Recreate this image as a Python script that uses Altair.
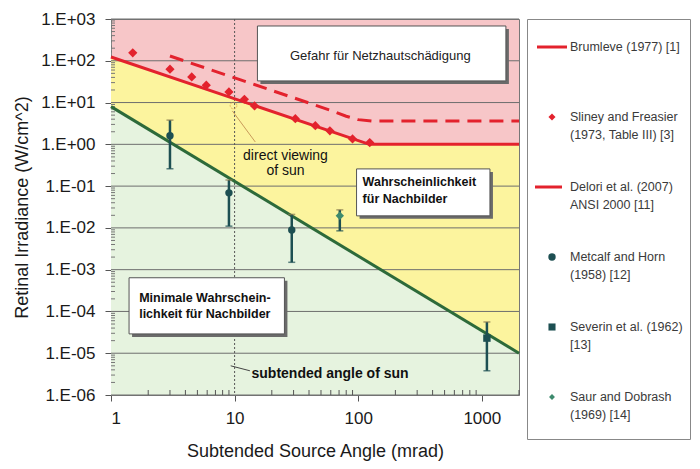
import altair as alt
import pandas as pd

FONT = "Liberation Sans"
RED = "#e3222d"
GREEN = "#2d6a3a"
TEAL = "#1d4f52"
TEAL2 = "#3d8a6d"
PINK = "#f7c6c8"
YELLOW = "#fcf49e"
LGREEN = "#e6f3df"

# ---- axis ticks ----
x_ticks = [1, 10, 100, 1000]
y_ticks = [1e3, 1e2, 1e1, 1e0, 1e-1, 1e-2, 1e-3, 1e-4, 1e-5, 1e-6]
x_minor = [2, 3, 4, 5, 6, 7, 8, 9, 20, 30, 40, 50, 60, 70, 80, 90,
           200, 300, 400, 500, 600, 700, 800, 900, 2000]
y_minor = [m * 10.0 ** e for e in range(-6, 3) for m in (2, 3, 4, 5, 6, 7, 8, 9)]

# ---- series ----
brum_x = [1, 123, 2000]
brum_y = [123, 1, 1]
delori_x = [3, 60, 80, 100, 130, 2000]
delori_y = [130, 6.5, 4.7, 3.9, 3.6, 3.6]
sun_x = [1, 2000]
sun_y = [8, 1e-5]
sliney_x = [1.5, 3, 4.5, 5.9, 9, 12, 14.5, 31, 45, 59, 90, 124]
sliney_y = [155, 63, 41, 26, 18, 12, 8.3, 4.1, 2.8, 2.1, 1.35, 1.1]
metcalf_x = [3, 9, 29]
metcalf_y = [1.6, 0.069, 0.0089]
metcalf_lo = [0.26, 0.011, 0.0015]
metcalf_hi = [3.8, 0.14, 0.021]
severin_x = [1100]
severin_y = [2.3e-5]
severin_lo = [3.8e-6]
severin_hi = [5.6e-5]
saur_x = [71]
saur_y = [0.0195]
saur_lo = [0.0085]
saur_hi = [0.027]

# ---- annotation boxes (data coords) ----
box_x1 = [15.3, 97, 1.4]
box_x2 = [1567, 1164, 25.3]
box_y1 = [680, 0.258, 6.4e-4]
box_y2 = [33, 0.0194, 2.9e-5]

# ---- legend ----
leg_line1 = ["Brumleve (1977) [1]", "Sliney and Freasier", "Delori et al. (2007)",
             "Metcalf and Horn", "Severin et al. (1962)", "Saur and Dobrash"]
leg_line2 = ["", "(1973, Table III) [3]", "ANSI 2000 [11]", "(1958) [12]", "[13]", "(1969) [14]"]

XT = "Subtended Source Angle (mrad)"
YT = "Retinal Irradiance (W/cm^2)"
xs = alt.Scale(type="log", domain=[1, 2000])
ys = alt.Scale(type="log", domain=[1e-6, 1e3])
xaxis = alt.Axis(values=x_ticks, format="d", grid=False, tickSize=6, tickColor="#555",
                 domainColor="#777", labelFontSize=17, labelPadding=9, labelColor="#1a1a1a",
                 titleFontSize=18, titlePadding=16, titleColor="#1a1a1a",
                 titleFontWeight="normal", labelFont=FONT, titleFont=FONT)
yaxis = alt.Axis(values=y_ticks, grid=False, tickSize=6, tickColor="#555", domainColor="#888",
                 domainDash=[3, 2],
                 labelExpr="'1.E' + (round(log(datum.value)/LN10) >= 0 ? '+0' : '-0') + abs(round(log(datum.value)/LN10))",
                 labelFontSize=17, labelPadding=10, labelColor="#1a1a1a",
                 titleFontSize=18, titlePadding=9, titleColor="#1a1a1a",
                 titleFontWeight="normal", labelFont=FONT, titleFont=FONT)


def X(f="x"):
    return alt.X(f"{f}:Q", scale=xs, axis=xaxis, title=XT)


def Y(f="y"):
    return alt.Y(f"{f}:Q", scale=ys, axis=yaxis, title=YT)


def df(**kw):
    return pd.DataFrame(kw)


brum = df(x=brum_x, y=brum_y)
delori = df(x=delori_x, y=delori_y)
sun = df(x=sun_x, y=sun_y)

yellow = alt.Chart(brum).mark_area(color=YELLOW, opacity=1).encode(x=X(), y=Y(), y2=alt.datum(1e-6))
green_area = alt.Chart(sun).mark_area(color=LGREEN, opacity=1).encode(x=X(), y=Y(), y2=alt.datum(1e-6))

grid = alt.Chart(df(y=y_ticks)).mark_rule(color="#6e6e6e", strokeWidth=1).encode(y=Y())
vgrid = alt.Chart(df(x=[10])).mark_rule(color="#555", strokeWidth=1, strokeDash=[2, 2]).encode(x=X())
xminor = alt.Chart(df(x=x_minor)).mark_rule(color="#555").encode(
    x=X(), y=alt.value(376), y2=alt.value(371))
yminor = alt.Chart(df(y=y_minor)).mark_rule(color="#777").encode(
    y=Y(), x=alt.value(0), x2=alt.value(4))

brum_line = alt.Chart(brum).mark_line(color=RED, strokeWidth=3).encode(x=X(), y=Y())
delori_line = alt.Chart(delori).mark_line(color=RED, strokeWidth=3, strokeDash=[14, 8]).encode(x=X(), y=Y())
sun_line = alt.Chart(sun).mark_line(color=GREEN, strokeWidth=3).encode(x=X(), y=Y())

sliney = alt.Chart(df(x=sliney_x, y=sliney_y)).mark_point(
    shape="diamond", filled=True, color=RED, size=85, opacity=1).encode(x=X(), y=Y())


def errbars(xv, yv, lo, hi, color, shape, size):
    d = df(x=xv, y=yv, lo=lo, hi=hi)
    bar = alt.Chart(d).mark_rule(color=TEAL, strokeWidth=2.5).encode(x=X(), y=Y("lo"), y2="hi:Q")
    cap_lo = alt.Chart(d).mark_tick(color=TEAL, orient="horizontal", size=7, thickness=1.5).encode(x=X(), y=Y("lo"))
    cap_hi = alt.Chart(d).mark_tick(color="#8a7a50", orient="horizontal", size=7, thickness=1.5).encode(x=X(), y=Y("hi"))
    pt = alt.Chart(d).mark_point(shape=shape, filled=True, color=color, size=size, opacity=1).encode(x=X(), y=Y())
    return [bar, cap_lo, cap_hi, pt]


metcalf = errbars(metcalf_x, metcalf_y, metcalf_lo, metcalf_hi, TEAL, "circle", 55)
severin = errbars(severin_x, severin_y, severin_lo, severin_hi, TEAL, "square", 55)
saur = errbars(saur_x, saur_y, saur_lo, saur_hi, TEAL2, "diamond", 70)

boxes = df(x=box_x1, x2=box_x2, y=box_y1, y2=box_y2)
shadow = alt.Chart(boxes).mark_rect(fill="#6a6a6a", xOffset=3, x2Offset=3, yOffset=3, y2Offset=3).encode(
    x=X(), x2="x2:Q", y=Y(), y2="y2:Q")
box = alt.Chart(boxes).mark_rect(fill="white", stroke="#555", strokeWidth=1).encode(
    x=X(), x2="x2:Q", y=Y(), y2="y2:Q")

# annotation texts
t_gefahr = alt.Chart(df(x=[151], y=[130], t=["Gefahr für Netzhautschädigung"])).mark_text(
    font=FONT, fontSize=13, color="#222", align="center", baseline="middle").encode(x=X(), y=Y(), text="t:N")
t_wahr = alt.Chart(df(x=[108.6, 108.6], y=[0.126, 0.0494], t=["Wahrscheinlichkeit", "für Nachbilder"])).mark_text(
    font=FONT, fontSize=12.5, fontWeight="bold", color="#111", align="left", baseline="middle").encode(
    x=X(), y=Y(), text="t:N")
t_min = alt.Chart(df(x=[1.69, 1.69], y=[2.11e-4, 8.8e-5], t=["Minimale Wahrschein-", "lichkeit für Nachbilder"])).mark_text(
    font=FONT, fontSize=12.5, fontWeight="bold", color="#111", align="left", baseline="middle").encode(
    x=X(), y=Y(), text="t:N")
t_direct = alt.Chart(df(x=[25.8, 25.8], y=[0.527, 0.231], t=["direct viewing", "of sun"])).mark_text(
    font=FONT, fontSize=14, color="#111", align="center", baseline="middle").encode(x=X(), y=Y(), text="t:N")
t_subt = alt.Chart(df(x=[13.7], y=[3.2e-6], t=["subtended angle of sun"])).mark_text(
    font=FONT, fontSize=14, fontWeight="bold", color="#111", align="left", baseline="middle").encode(
    x=X(), y=Y(), text="t:N")

lead_direct = alt.Chart(df(x=[9.6], y=[6.3], x2=[14.7], y2=[1.14])).mark_rule(
    color="#c89a5a", strokeWidth=1).encode(x=X(), y=Y(), x2="x2:Q", y2="y2:Q")
circ_direct = alt.Chart(df(x=[9.8], y=[8.5])).mark_point(
    shape="circle", color="#e0a040", size=45, strokeWidth=1, strokeDash=[2, 1]).encode(x=X(), y=Y())
lead_subt = alt.Chart(df(x=[9.3], y=[5e-6], x2=[13.3], y2=[3.8e-6])).mark_rule(
    color="#444", strokeWidth=1).encode(x=X(), y=Y(), x2="x2:Q", y2="y2:Q")

main = alt.layer(
    yellow, green_area, grid, vgrid, xminor, yminor,
    delori_line, brum_line, sun_line, sliney,
    *metcalf, *severin, *saur,
    lead_direct, circ_direct, lead_subt,
    shadow, box,
    t_gefahr, t_wahr, t_min, t_direct, t_subt,
).properties(width=408, height=376,
             view=alt.ViewBackground(fill=PINK, stroke="#777", strokeWidth=1))

# ---- legend panel ----
rows = list(range(6))
leg = df(row=rows, l1=leg_line1, l2=leg_line2)
LY = alt.Y("row:Q", scale=alt.Scale(domain=[-0.4, 5.6], reverse=True), axis=None)
line_rows = df(row=[0, 2], x1=[10, 8], x2=[40, 35])
leg_lines = alt.Chart(line_rows).mark_rule(color=RED, strokeWidth=3).encode(
    y=LY, x=alt.X("x1:Q", scale=alt.Scale(domain=[0, 163]), axis=None), x2="x2:Q")
sym = df(row=[1, 3, 4, 5],
         shape=["diamond", "circle", "square", "diamond"],
         color=[RED, TEAL, TEAL, TEAL2],
         size=[50, 55, 50, 35])
leg_sym = alt.Chart(sym).mark_point(filled=True, opacity=1).encode(
    y=LY, x=alt.value(25),
    shape=alt.Shape("shape:N", scale=None),
    color=alt.Color("color:N", scale=None),
    size=alt.Size("size:Q", scale=None))
leg_t1 = alt.Chart(leg).mark_text(font=FONT, fontSize=12.5, color="#3a3a3a", align="left",
                                  baseline="middle").encode(y=LY, x=alt.value(43), text="l1:N")
leg_t2 = alt.Chart(leg).mark_text(font=FONT, fontSize=12.5, color="#3a3a3a", align="left",
                                  baseline="middle", dy=17.5).encode(y=LY, x=alt.value(43), text="l2:N")
legend = alt.layer(leg_lines, leg_sym, leg_t1, leg_t2).properties(
    width=163, height=420, view=alt.ViewBackground(fill="white", stroke="#888", strokeWidth=1))

chart = alt.hconcat(main, legend, spacing=0).properties(
    padding={"left": 5, "top": 1, "right": 0, "bottom": 2}
).configure(font=FONT).configure_view(stroke=None)

chart.save("out.html", embed_options={"renderer": "svg", "actions": False})
